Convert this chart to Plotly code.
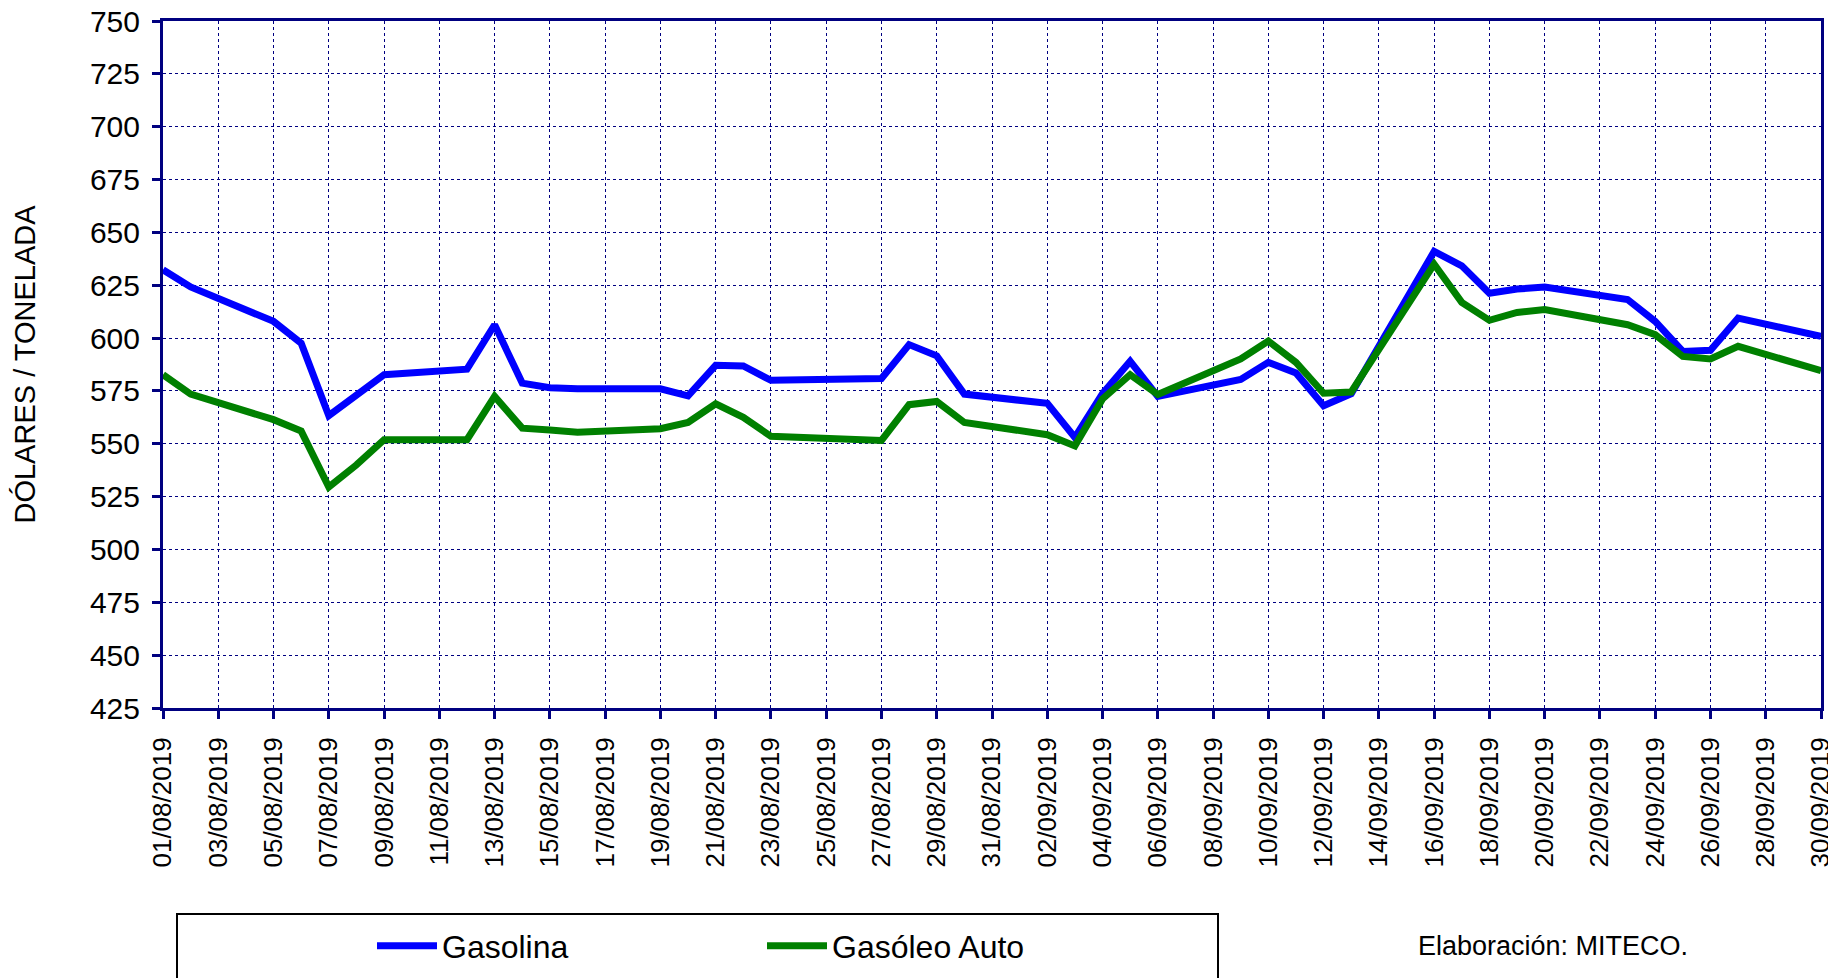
import plotly.graph_objects as go

dates = [
    "2019-08-01", "2019-08-02", "2019-08-05", "2019-08-06", "2019-08-07", "2019-08-08",
    "2019-08-09", "2019-08-12", "2019-08-13", "2019-08-14", "2019-08-15", "2019-08-16",
    "2019-08-19", "2019-08-20", "2019-08-21", "2019-08-22", "2019-08-23", "2019-08-27",
    "2019-08-28", "2019-08-29", "2019-08-30", "2019-09-02", "2019-09-03", "2019-09-04",
    "2019-09-05", "2019-09-06", "2019-09-09", "2019-09-10", "2019-09-11", "2019-09-12",
    "2019-09-13", "2019-09-16", "2019-09-17", "2019-09-18", "2019-09-19", "2019-09-20",
    "2019-09-23", "2019-09-24", "2019-09-25", "2019-09-26", "2019-09-27", "2019-09-30",
]

gasolina = [
    632.3, 624.2, 607.9, 597.6, 563.3, 573.0,
    582.7, 585.3, 606.3, 578.7, 576.5, 576.0,
    576.0, 572.7, 587.1, 586.8, 580.0, 580.9,
    596.9, 591.6, 573.5, 569.1, 553.0, 573.7,
    589.0, 572.4, 580.4, 588.5, 583.5, 568.0,
    573.7, 641.0, 634.2, 621.2, 623.2, 624.1,
    618.2, 607.9, 593.7, 594.2, 609.5, 600.8,
]

gasoleo = [
    582.7, 573.5, 561.4, 556.0, 529.5, 540.0,
    551.9, 551.9, 572.4, 557.4, 556.5, 555.5,
    557.1, 560.1, 568.9, 562.5, 553.5, 551.6,
    568.5, 570.0, 560.1, 554.3, 549.0, 571.2,
    582.7, 573.3, 590.1, 598.6, 588.5, 573.9,
    574.5, 635.0, 616.9, 608.4, 612.1, 613.5,
    606.3, 601.6, 591.3, 590.1, 596.1, 584.6,
]

series_names = ["Gasolina", "Gasóleo Auto"]
y_title = "DÓLARES / TONELADA"
source_note = "Elaboración: MITECO."

# page offset of the plot div (default body margin)
OFF = 8
W, H = 1836 - OFF, 978 - OFF
L, R, T, B = 163 - OFF, 1836 - 1821, 21 - OFF, 978 - 708
pw, ph = W - L - R, H - T - B

def px_x(x):  # x in page pixels
    return (x - OFF - L) / pw

def px_y(y):  # y in page pixels
    return (H - B - (y - OFF)) / ph

FONT = "Liberation Sans, Arial, sans-serif"
NAVY = "#000080"

fig = go.Figure()
fig.add_trace(go.Scatter(x=dates, y=gasolina, mode="lines", name=series_names[0],
                         line=dict(color="#0000FF", width=7)))
fig.add_trace(go.Scatter(x=dates, y=gasoleo, mode="lines", name=series_names[1],
                         line=dict(color="#008000", width=7)))

fig.update_layout(
    width=W, height=H,
    margin=dict(l=L, r=R, t=T, b=B, autoexpand=False),
    paper_bgcolor="white", plot_bgcolor="white",
    font=dict(family=FONT, color="black", size=27),
    showlegend=True,
    legend=dict(orientation="h", x=px_x(372), xanchor="left", y=px_y(946), yanchor="middle",
                font=dict(size=32, family=FONT, color="black"),
                bgcolor="rgba(0,0,0,0)", borderwidth=0, itemwidth=60,
                entrywidth=315, entrywidthmode="pixels"),
)

fig.update_xaxes(
    type="date",
    range=["2019-08-01", "2019-09-30"],
    tick0="2019-08-01", dtick=2 * 86400000,
    tickformat="%d/%m/%Y", tickangle=-90,
    tickfont=dict(size=26, family=FONT, color="black"),
    showline=True, linecolor=NAVY, linewidth=3, mirror=True,
    ticks="outside", ticklen=8, tickwidth=3, tickcolor=NAVY,
    ticklabelstandoff=8, ticklabeloverflow="allow",
    showgrid=True, gridcolor=NAVY, gridwidth=1, griddash="dot",
    zeroline=False,
)
fig.update_yaxes(
    range=[425, 750], dtick=25, tick0=425,
    tickfont=dict(size=30, family=FONT, color="black"),
    showline=True, linecolor=NAVY, linewidth=3, mirror=True,
    ticks="outside", ticklen=8, tickwidth=3, tickcolor=NAVY,
    ticklabelstandoff=6, ticklabeloverflow="allow",
    showgrid=True, gridcolor=NAVY, gridwidth=1, griddash="dot",
    zeroline=False,
    title=dict(text=y_title, font=dict(size=29, family=FONT, color="black"), standoff=46),
)

# legend frame
fig.add_shape(type="rect", xref="paper", yref="paper",
              x0=px_x(177), x1=px_x(1218), y0=px_y(1000), y1=px_y(914),
              line=dict(color="black", width=2), fillcolor="rgba(0,0,0,0)", layer="above")

fig.add_annotation(text=source_note, xref="paper", yref="paper",
                   x=px_x(1553), y=px_y(946), xanchor="center", yanchor="middle",
                   showarrow=False, font=dict(size=27, family=FONT, color="black"))

fig.write_html("out.html")
